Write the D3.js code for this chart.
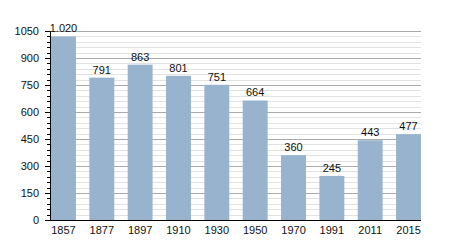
<!DOCTYPE html>
<html>
<head>
<meta charset="utf-8">
<script src="https://cdn.jsdelivr.net/npm/d3@7"></script>
<style>
  body { margin: 0; background: #fff; }
  text { font-family: "Liberation Sans", Arial, sans-serif; }
</style>
</head>
<body>
<div id="chart"></div>
<script>
// population by census year
const years  = ["1857","1877","1897","1910","1930","1950","1970","1991","2011","2015"]
const values = [1020, 791, 863, 801, 751, 664, 360, 245, 443, 477]
const yTicks = [0, 150, 300, 450, 600, 750, 900, 1050]

const W = 450, H = 250
const margin = { top: 31, right: 29, bottom: 30, left: 50 }
const plotW = W - margin.left - margin.right
const plotH = H - margin.top - margin.bottom

const svg = d3.select("#chart").append("svg")
  .attr("width", W).attr("height", H)

const g = svg.append("g")
  .attr("transform", `translate(${margin.left},${margin.top})`)

const x = d3.scaleBand().domain(years).range([1, plotW]).paddingInner(0.35).paddingOuter(0)
const y = d3.scaleLinear().domain([0, 1050]).range([plotH, 0])

// minor gridlines every 30, major every 150
const minor = d3.range(30, 1051, 30).filter(v => v % 150 !== 0)
g.append("g").selectAll("line")
  .data(minor).join("line")
  .attr("x1", 0).attr("x2", plotW)
  .attr("y1", d => Math.round(y(d)) + 0.5).attr("y2", d => Math.round(y(d)) + 0.5)
  .attr("stroke", "#e2e2e2")

g.append("g").selectAll("line")
  .data(yTicks.slice(1)).join("line")
  .attr("x1", 0).attr("x2", plotW)
  .attr("y1", d => Math.round(y(d)) + 0.5).attr("y2", d => Math.round(y(d)) + 0.5)
  .attr("stroke", "#aaaaaa")

// bars
g.selectAll("rect.bar")
  .data(values).join("rect")
  .attr("class", "bar")
  .attr("x", (d, i) => x(years[i]))
  .attr("width", x.bandwidth())
  .attr("y", d => y(d))
  .attr("height", d => plotH - y(d))
  .attr("fill", "#98b3cd")

// value labels, dot as thousands separator
const fmt = d3.formatLocale({ decimal: ",", thousands: ".", grouping: [3], currency: ["", ""] }).format(",")
g.selectAll("text.val")
  .data(values).join("text")
  .attr("class", "val")
  .attr("x", (d, i) => x(years[i]) + x.bandwidth() / 2)
  .attr("y", d => y(d) - 4)
  .attr("text-anchor", "middle")
  .style("font-size", "11px").style("fill", "#111")
  .text(d => fmt(d))

// y axis with minor ticks
const yAxis = g.append("g")
  .call(d3.axisLeft(y).tickValues(yTicks).tickFormat(d3.format("d")).tickSize(5).tickPadding(6))
yAxis.select(".domain").attr("stroke", "#000")
yAxis.selectAll(".tick line").attr("stroke", "#000")
yAxis.selectAll("text").style("font-size", "11px").style("fill", "#111")
  .style("font-family", "'Liberation Sans', Arial, sans-serif")

g.append("g").selectAll("line")
  .data(minor).join("line")
  .attr("x1", -3).attr("x2", 0)
  .attr("y1", d => Math.round(y(d)) + 0.5).attr("y2", d => Math.round(y(d)) + 0.5)
  .attr("stroke", "#000")

// x axis
const xAxis = g.append("g")
  .attr("transform", `translate(0,${plotH})`)
  .call(d3.axisBottom(x).tickSize(0).tickPadding(6))
xAxis.select(".domain").attr("stroke", "#000").attr("d", `M0,0.5H${plotW}`)
xAxis.selectAll("text").style("font-size", "11px").style("fill", "#111")
  .style("font-family", "'Liberation Sans', Arial, sans-serif")
</script>
</body>
</html>
